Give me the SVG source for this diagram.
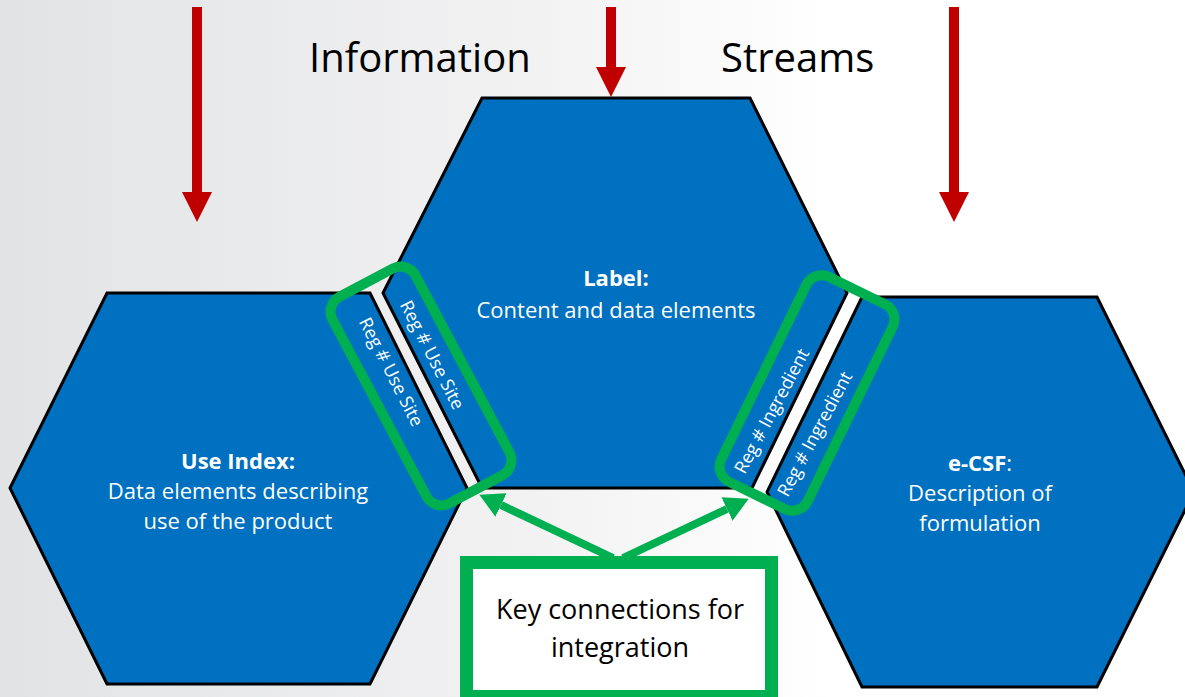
<svg xmlns="http://www.w3.org/2000/svg" width="1185" height="697" viewBox="0 0 1185 697">
<defs>
<linearGradient id="bg" x1="0" y1="0" x2="1" y2="0">
<stop offset="0" stop-color="#e2e3e5"/>
<stop offset="0.45" stop-color="#f2f2f3"/>
<stop offset="0.7" stop-color="#ffffff"/>
<stop offset="1" stop-color="#ffffff"/>
</linearGradient>
<marker id="redHead" markerUnits="userSpaceOnUse" markerWidth="30" markerHeight="30" viewBox="0 0 30 30" refX="0" refY="15" orient="auto">
<path d="M0,0 L30,15 L0,30 z" fill="#C00000"/>
</marker>
<marker id="greenHead" markerUnits="userSpaceOnUse" markerWidth="24" markerHeight="26" viewBox="0 0 24 26" refX="0" refY="13" orient="auto">
<path d="M0,0 L24,13 L0,26 z" fill="#00B050"/>
</marker>
<style>
.hex{fill:#0070C0;stroke:#000;stroke-width:3;stroke-linejoin:miter}
.t{font-family:"Open Sans","Segoe UI","DejaVu Sans",sans-serif;fill:#fff;text-anchor:middle;font-size:22px}
.b{font-weight:bold}
.strip{font-family:"Open Sans","DejaVu Sans",sans-serif;fill:#fff;font-size:18px;text-anchor:middle}
.title{font-family:"Open Sans","DejaVu Sans",sans-serif;fill:#000;font-size:40px}
.red{stroke:#C00000;stroke-width:10;fill:none;marker-end:url(#redHead)}
.grn{stroke:#00B050;stroke-width:8;fill:none;marker-end:url(#greenHead)}
.ring{fill:none;stroke:#00B050;stroke-width:10}
.key{font-family:"Open Sans","DejaVu Sans",sans-serif;font-size:27px;fill:#000;text-anchor:middle}
</style>
</defs>
<rect width="1185" height="697" fill="url(#bg)"/>

<g id="titles">
<text class="title" x="309" y="72">Information</text>
<text class="title" x="721" y="72">Streams</text>
</g>

<g id="red-arrows">
<line class="red" x1="197" y1="7" x2="197" y2="192"/>
<line class="red" x1="611" y1="7" x2="611" y2="67"/>
<line class="red" x1="954" y1="7" x2="954" y2="192"/>
</g>

<g id="use-index">
<polygon class="hex" points="107,293 370,293 467,488 370,684 107,684 10,488"/>
<text class="t b" x="238" y="469">Use Index:</text>
<text class="t" x="238" y="499">Data elements describing</text>
<text class="t" x="238" y="529">use of the product</text>
<text class="strip" transform="translate(391,372) rotate(63)" y="6">Reg #  Use Site</text>
</g>

<g id="label">
<polygon class="hex" points="482,98 750,98 847,293 752,488 482,488 383,293"/>
<text class="t b" x="616" y="286">Label:</text>
<text class="t" x="616" y="318">Content and data elements</text>
<text class="strip" transform="translate(432,355) rotate(63)" y="6">Reg # Use Site</text>
<text class="strip" transform="translate(772,411) rotate(-62)" y="6">Reg #  Ingredient</text>
</g>

<g id="e-csf">
<polygon class="hex" points="862,297 1097,297 1194,492 1097,687 862,687 767,492"/>
<text class="t" x="980" y="471"><tspan class="b">e-CSF</tspan>:</text>
<text class="t" x="980" y="501">Description of</text>
<text class="t" x="980" y="531">formulation</text>
<text class="strip" transform="translate(815,434) rotate(-62)" y="6">Reg # Ingredient</text>
</g>

<g id="key-rings">
<rect class="ring" transform="translate(421,386) rotate(62)" x="-117" y="-47" width="234" height="94" rx="17"/>
<rect class="ring" transform="translate(807,393) rotate(-64)" x="-114" y="-48" width="228" height="96" rx="17"/>
</g>

<g id="connectors">
<line class="grn" x1="613" y1="558" x2="501" y2="505"/>
<line class="grn" x1="623" y1="558" x2="727" y2="509"/>
</g>

<g id="key-box">
<rect x="466.5" y="562.5" width="305" height="134" fill="#fff" stroke="#00B050" stroke-width="13"/>
<text class="key" x="620" y="619">Key connections for</text>
<text class="key" x="620" y="657">integration</text>
</g>
</svg>
